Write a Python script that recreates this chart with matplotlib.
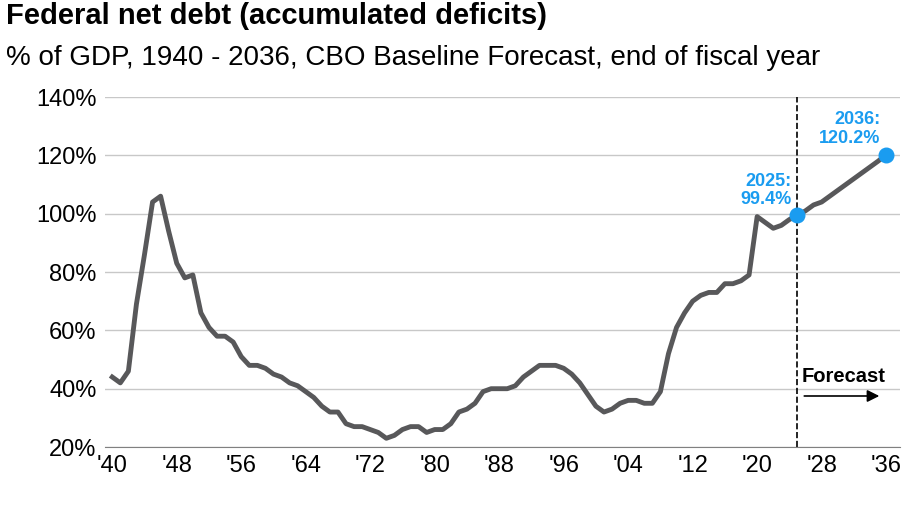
import numpy as np
import matplotlib.pyplot as plt

plt.rcParams['font.family'] = ['Liberation Sans', 'DejaVu Sans']

years = list(range(1940, 2037))
debt = [44, 42, 46, 69, 86, 104, 106, 94, 83, 78, 79, 66, 61, 58, 58, 56, 51, 48, 48, 47,
        45, 44, 42, 41, 39, 37, 34, 32, 32, 28, 27, 27, 26, 25, 23, 24, 26, 27, 27, 25,
        26, 26, 28, 32, 33, 35, 39, 40, 40, 40, 41, 44, 46, 48, 48, 48, 47, 45, 42, 38,
        34, 32, 33, 35, 36, 36, 35, 35, 39, 52, 61, 66, 70, 72, 73, 73, 76, 76, 77, 79,
        99, 97, 95, 96, 98, 99.4, 101, 103, 104, 106, 108, 110, 112, 114, 116, 118, 120.2]
tick_years = list(range(1940, 2037, 8))
tick_labels = ["'" + str(y)[2:] for y in tick_years]
y_ticks = list(range(20, 141, 20))

fig = plt.figure(figsize=(9.21, 5.08), dpi=100)
ax = fig.add_axes([0.114, 0.12, 0.863, 0.689])
ax.plot(years, debt, color='#58585a', lw=3.5, zorder=3)
ax.set_xlim(1939.1, 2037.7)
ax.set_ylim(20, 140)
ax.set_xticks(tick_years)
ax.set_xticklabels(tick_labels)
ax.set_yticks(y_ticks)
ax.set_yticklabels([f'{v}%' for v in y_ticks])
ax.tick_params(labelsize=17, length=0, pad=6)
ax.grid(axis='y', color='#c8c8c8', lw=1)
for s in ['top', 'right', 'left']:
    ax.spines[s].set_visible(False)
ax.spines['bottom'].set_color('#808080')

ax.axvline(2025, color='black', ls='--', lw=1.2, zorder=2)
blue = '#1a9cf0'
ax.scatter([2025, 2036], [99.4, 120.2], s=110, color=blue, zorder=4, clip_on=False)
ax.text(2024.3, 102, '2025:\n99.4%', color=blue, fontsize=13, fontweight='bold',
        ha='right', va='bottom', linespacing=1.1)
ax.text(2035.3, 123, '2036:\n120.2%', color=blue, fontsize=13, fontweight='bold',
        ha='right', va='bottom', linespacing=1.1)
ax.text(2025.5, 41, 'Forecast', fontsize=14.5, fontweight='bold', ha='left', va='bottom')
ax.annotate('', xy=(2035.5, 37.5), xytext=(2025.5, 37.5),
            arrowprops=dict(arrowstyle='-|>', color='black', lw=1.2, mutation_scale=18))

fig.text(0.006, 0.94, 'Federal net debt (accumulated deficits)', fontsize=21,
         fontweight='bold', va='bottom')
fig.text(0.006, 0.86, '% of GDP, 1940 - 2036, CBO Baseline Forecast, end of fiscal year',
         fontsize=20, va='bottom')
fig.savefig('out.png')
